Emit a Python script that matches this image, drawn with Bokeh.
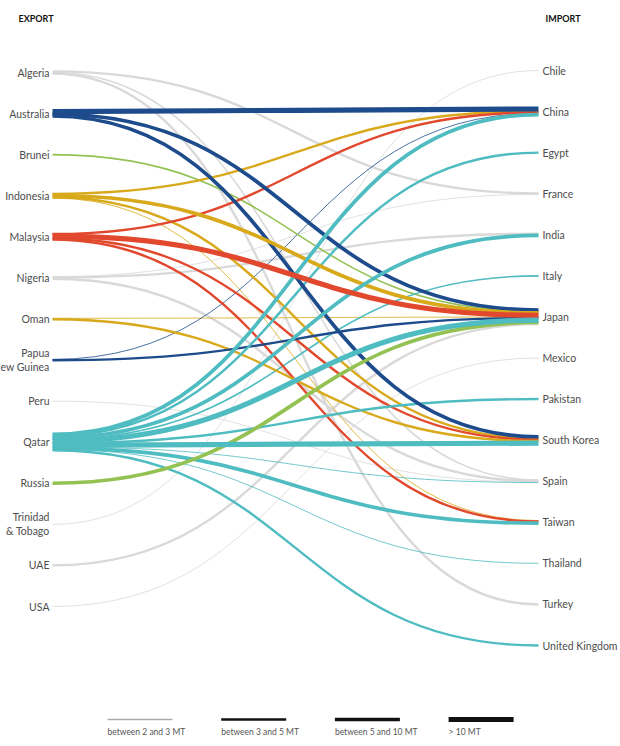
from bokeh.plotting import figure
from bokeh.models import Range1d, ColumnDataSource
from bokeh.embed import file_html
from bokeh.resources import INLINE
from bokeh.core.properties import value

# ---------------- data ----------------
exporters = ["Algeria", "Australia", "Brunei", "Indonesia", "Malaysia", "Nigeria", "Oman",
             "Papua\nNew Guinea", "Peru", "Qatar", "Russia", "Trinidad\n& Tobago", "UAE", "USA"]
importers = ["Chile", "China", "Egypt", "France", "India", "Italy", "Japan", "Mexico",
             "Pakistan", "South Korea", "Spain", "Taiwan", "Thailand", "Turkey", "United Kingdom"]

# flows: exporter, importer, volume class (0: < 2 MT, 1: 2-3 MT, 2: 3-5 MT, 3: 5-10 MT, 4: > 10 MT)
flow_from = ["Algeria", "Algeria", "Algeria",
             "Australia", "Australia", "Australia",
             "Brunei",
             "Indonesia", "Indonesia", "Indonesia", "Indonesia",
             "Malaysia", "Malaysia", "Malaysia", "Malaysia",
             "Nigeria", "Nigeria", "Nigeria",
             "Oman", "Oman",
             "Papua\nNew Guinea", "Papua\nNew Guinea",
             "Peru",
             "Qatar", "Qatar", "Qatar", "Qatar", "Qatar", "Qatar", "Qatar", "Qatar", "Qatar", "Qatar", "Qatar",
             "Russia",
             "Trinidad\n& Tobago",
             "UAE",
             "USA"]
flow_to = ["France", "Spain", "Turkey",
           "China", "Japan", "South Korea",
           "Japan",
           "China", "Japan", "South Korea", "Taiwan",
           "China", "Japan", "South Korea", "Taiwan",
           "France", "India", "Spain",
           "Japan", "South Korea",
           "China", "Japan",
           "Spain",
           "China", "Egypt", "India", "Italy", "Japan", "Pakistan", "South Korea", "Spain", "Taiwan",
           "Thailand", "United Kingdom",
           "Japan",
           "Chile",
           "Japan",
           "Mexico"]
flow_class = [2, 1, 2,
              4, 3, 3,
              1,
              2, 3, 2, 0,
              2, 4, 2, 2,
              0, 2, 2,
              0, 2,
              0, 2,
              0,
              3, 2, 3, 1, 4, 2, 4, 0, 3, 0, 2,
              3,
              0,
              2,
              0]

legend_labels = ["between 2 and 3 MT", "between 3 and 5 MT", "between 5 and 10 MT", "> 10 MT"]

# ---------------- styles ----------------
NAVY, RED, GOLD, GREEN, TEAL, GREY = "#1d4b8c", "#e2482d", "#d8a91b", "#93c152", "#4fbcc1", "#d9d9d9"
exporter_color = {"Algeria": GREY, "Australia": NAVY, "Brunei": GREEN, "Indonesia": GOLD,
                  "Malaysia": RED, "Nigeria": GREY, "Oman": GOLD, "Papua\nNew Guinea": NAVY,
                  "Peru": GREY, "Qatar": TEAL, "Russia": GREEN, "Trinidad\n& Tobago": GREY,
                  "UAE": GREY, "USA": GREY}
class_width = [0.8, 1.6, 2.4, 3.7, 5.2]
STACK = 0.55

W, H = 620, 746
X_LEFT, X_RIGHT = 52, 538
Y_LEFT0, Y_LEFT1 = 72, 606
Y_RIGHT0, Y_RIGHT1 = 70, 645

left_y = {n: Y_LEFT0 + i * (Y_LEFT1 - Y_LEFT0) / (len(exporters) - 1) for i, n in enumerate(exporters)}
right_y = {n: Y_RIGHT0 + j * (Y_RIGHT1 - Y_RIGHT0) / (len(importers) - 1) for j, n in enumerate(importers)}

n = len(flow_from)
widths = [class_width[c] for c in flow_class]

# stacking offsets at source and at target
src_off = [0.0] * n
dst_off = [0.0] * n
for e in exporters:
    idx = sorted([k for k in range(n) if flow_from[k] == e], key=lambda k: importers.index(flow_to[k]))
    tot = sum(widths[k] for k in idx) * STACK
    cum = -tot / 2
    for k in idx:
        src_off[k] = cum + widths[k] * STACK / 2
        cum += widths[k] * STACK
for im in importers:
    idx = sorted([k for k in range(n) if flow_to[k] == im], key=lambda k: exporters.index(flow_from[k]))
    tot = sum(widths[k] for k in idx) * STACK
    cum = -tot / 2
    for k in idx:
        dst_off[k] = cum + widths[k] * STACK / 2
        cum += widths[k] * STACK

order = sorted(range(n), key=lambda k: (exporter_color[flow_from[k]] != GREY, flow_class[k]))
xm = (X_LEFT + X_RIGHT) / 2
data = dict(x0=[], y0=[], x1=[], y1=[], cx0=[], cy0=[], cx1=[], cy1=[], c=[], w=[])
for k in order:
    y0 = left_y[flow_from[k]] + src_off[k]
    y1 = right_y[flow_to[k]] + dst_off[k]
    data["x0"].append(X_LEFT); data["y0"].append(y0)
    data["x1"].append(X_RIGHT); data["y1"].append(y1)
    data["cx0"].append(xm); data["cy0"].append(y0)
    data["cx1"].append(xm); data["cy1"].append(y1)
    data["c"].append(exporter_color[flow_from[k]])
    data["w"].append(widths[k])

p = figure(width=W, height=H, x_range=Range1d(0, W), y_range=Range1d(H, 0),
           output_backend="svg", toolbar_location=None, min_border=0)
p.axis.visible = False
p.grid.visible = False
p.outline_line_color = None

p.bezier(x0="x0", y0="y0", x1="x1", y1="y1", cx0="cx0", cy0="cy0", cx1="cx1", cy1="cy1",
         line_color="c", line_width="w", source=ColumnDataSource(data))

FONT = value("Lato")
p.text(x=[X_LEFT - 3] * len(exporters), y=[left_y[e] for e in exporters], text=exporters,
       text_align="right", text_baseline="middle", text_font=FONT, text_font_size="10.5px",
       text_color="#4d4d4d", text_line_height=1.15)
p.text(x=[X_RIGHT + 4] * len(importers), y=[right_y[i] for i in importers], text=importers,
       text_align="left", text_baseline="middle", text_font=FONT, text_font_size="10.5px",
       text_color="#4d4d4d")

p.text(x=[18, 545], y=[18, 18], text=["EXPORT", "IMPORT"], text_align="left", text_baseline="middle",
       text_font=FONT, text_font_size="9px", text_font_style="bold", text_color="#111111")

# legend
lx0, lstep, llen, ly = 107, 113.7, 65, 719
lxs = [lx0 + i * lstep for i in range(len(legend_labels))]
p.segment(x0=lxs, y0=[ly] * 4, x1=[x + llen for x in lxs], y1=[ly] * 4,
          line_color=["#aaaaaa", "#111111", "#111111", "#111111"],
          line_width=[class_width[c] for c in range(1, 5)])
p.text(x=lxs, y=[ly + 12] * 4, text=legend_labels, text_align="left", text_baseline="middle",
       text_font=FONT, text_font_size="8.5px", text_color="#555555")

open("out.html", "w").write(file_html(p, INLINE))
